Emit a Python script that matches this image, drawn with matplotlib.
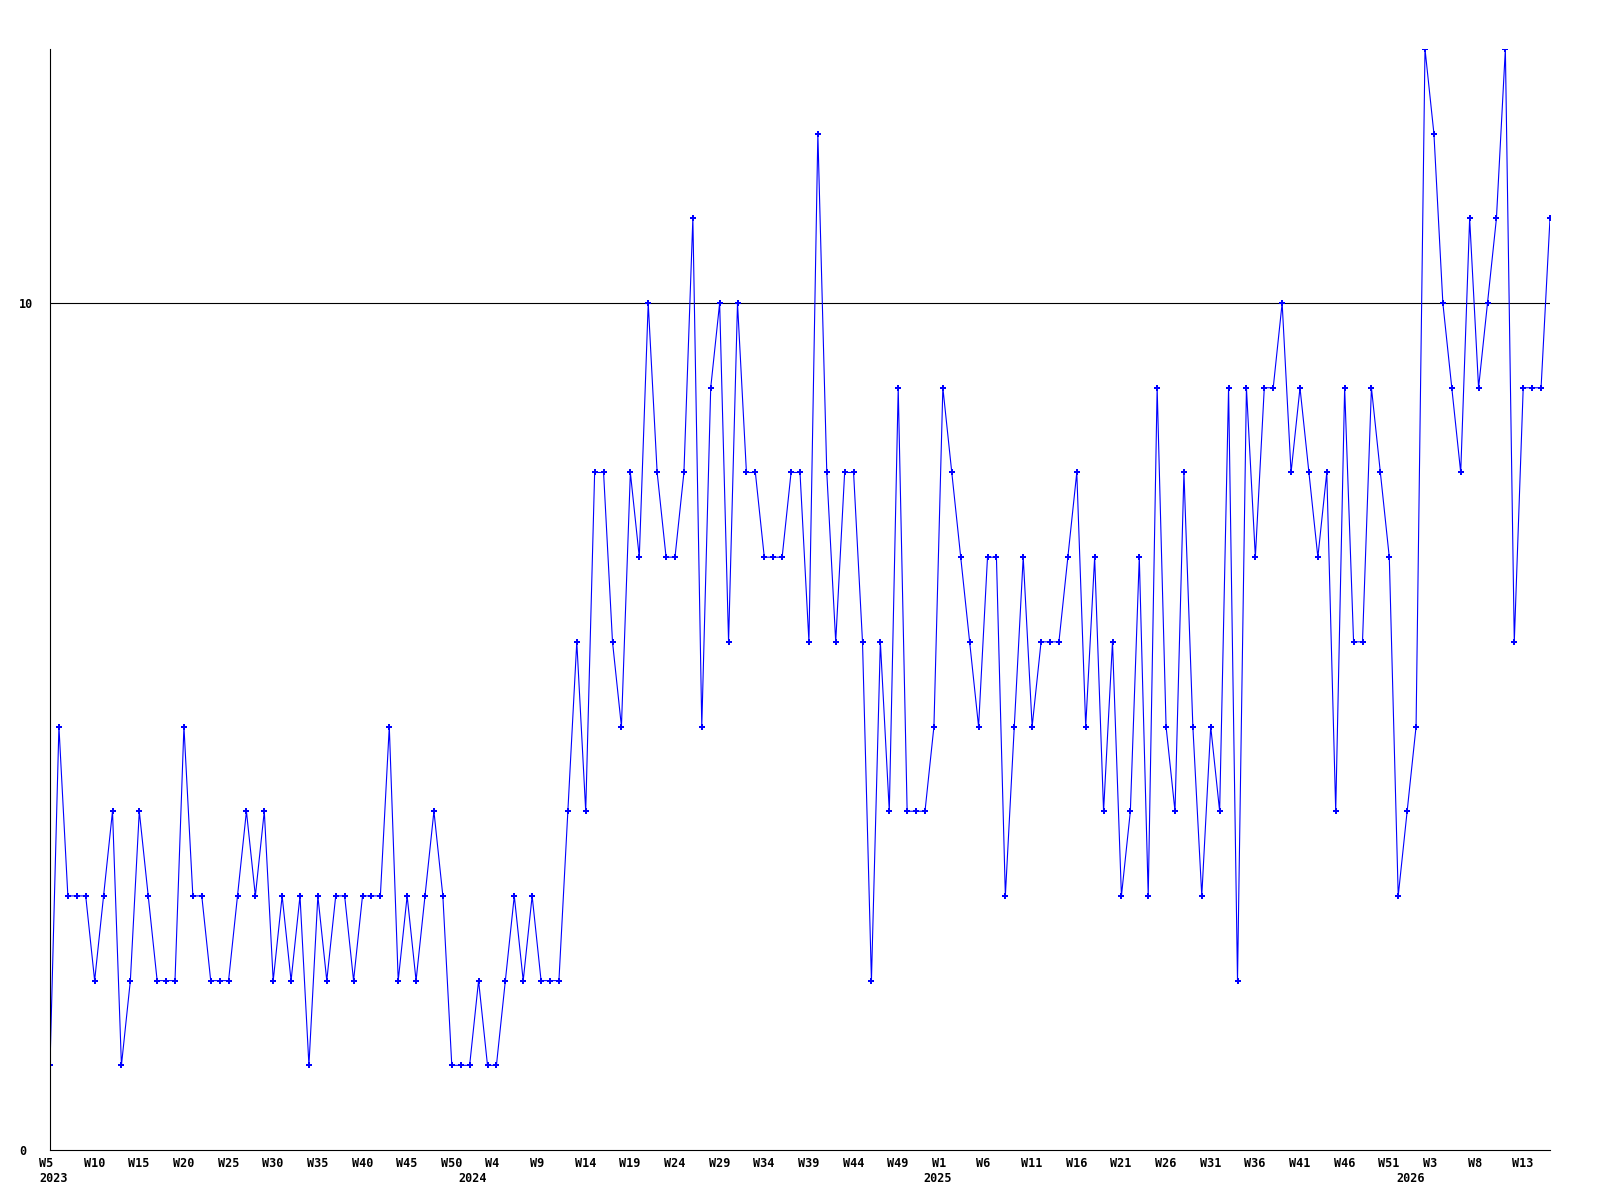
import numpy as np
import matplotlib
matplotlib.use('Agg')
import matplotlib.pyplot as plt
from matplotlib.transforms import ScaledTranslation

# weekly values, 2023 W5 .. 2026 W16
counts = [
    1, 5, 3, 3, 3, 2, 3, 4, 1, 2, 4, 3, 2, 2, 2, 5, 3, 3, 2, 2,
    2, 3, 4, 3, 4, 2, 3, 2, 3, 1, 3, 2, 3, 3, 2, 3, 3, 3, 5, 2,
    3, 2, 3, 4, 3, 1, 1, 1, 2, 1, 1, 2, 3, 2, 3, 2, 2, 2, 4, 6,
    4, 8, 8, 6, 5, 8, 7, 10, 8, 7, 7, 8, 11, 5, 9, 10, 6, 10, 8, 8,
    7, 7, 7, 8, 8, 6, 12, 8, 6, 8, 8, 6, 2, 6, 4, 9, 4, 4, 4, 5,
    9, 8, 7, 6, 5, 7, 7, 3, 5, 7, 5, 6, 6, 6, 7, 8, 5, 7, 4, 6,
    3, 4, 7, 3, 9, 5, 4, 8, 5, 3, 5, 4, 9, 2, 9, 7, 9, 9, 10, 8,
    9, 8, 7, 8, 4, 9, 6, 6, 9, 8, 7, 3, 4, 5, 13, 12, 10, 9, 8, 11,
    9, 10, 11, 13, 6, 9, 9, 9, 11,
]

# a label every 5th week
week_labels = [
    'W5', 'W10', 'W15', 'W20', 'W25', 'W30', 'W35', 'W40', 'W45', 'W50',
    'W4', 'W9', 'W14', 'W19', 'W24', 'W29', 'W34', 'W39', 'W44', 'W49',
    'W1', 'W6', 'W11', 'W16', 'W21', 'W26', 'W31', 'W36', 'W41', 'W46', 'W51',
    'W3', 'W8', 'W13',
]
# first week of each year (index into counts)
year_starts = [0, 47, 99, 152]
year_names = ['2023', '2024', '2025', '2026']

y_ticks = [0, 10]
y_max = 13

fig = plt.figure(figsize=(16, 12), dpi=100)
ax = fig.add_axes([50 / 1600, 50 / 1200, 1500 / 1600, 1101 / 1200])

x = np.arange(len(counts))
ax.plot(x, counts, color='#0000ff', lw=0.8, marker='P', ms=4.5, mew=0)
ax.axhline(10, color='black', lw=0.8, zorder=0)

ax.set_xlim(0, len(counts) - 1)
ax.set_ylim(0, y_max)

for side in ('top', 'right'):
    ax.spines[side].set_visible(False)
for side in ('left', 'bottom'):
    ax.spines[side].set_linewidth(0.8)
    ax.spines[side].set_color('black')

font = dict(family='DejaVu Sans Mono', weight='bold', size=8.5)

ax.set_yticks(y_ticks)
ax.set_yticklabels([str(v) for v in y_ticks], **font)
ax.tick_params(axis='y', length=0, pad=22.3)
for lbl in ax.get_yticklabels():
    lbl.set_horizontalalignment('left')

# year labels sit on minor ticks; keep the one that shares x=0 with W5
ax.xaxis.remove_overlapping_locs = False
ax.set_xticks(np.arange(len(week_labels)) * 5)
ax.set_xticklabels(week_labels, **font)
ax.set_xticks(year_starts, minor=True)
ax.set_xticklabels(year_names, minor=True, **font)
ax.tick_params(axis='x', which='major', length=0, pad=5)
ax.tick_params(axis='x', which='minor', length=0, pad=16)

shift = ScaledTranslation(-11 / 100, 0, fig.dpi_scale_trans)
for lbl in ax.get_xticklabels() + ax.get_xticklabels(minor=True):
    lbl.set_horizontalalignment('left')
    lbl.set_transform(lbl.get_transform() + shift)

fig.savefig('out.png', dpi=100, facecolor='white')
